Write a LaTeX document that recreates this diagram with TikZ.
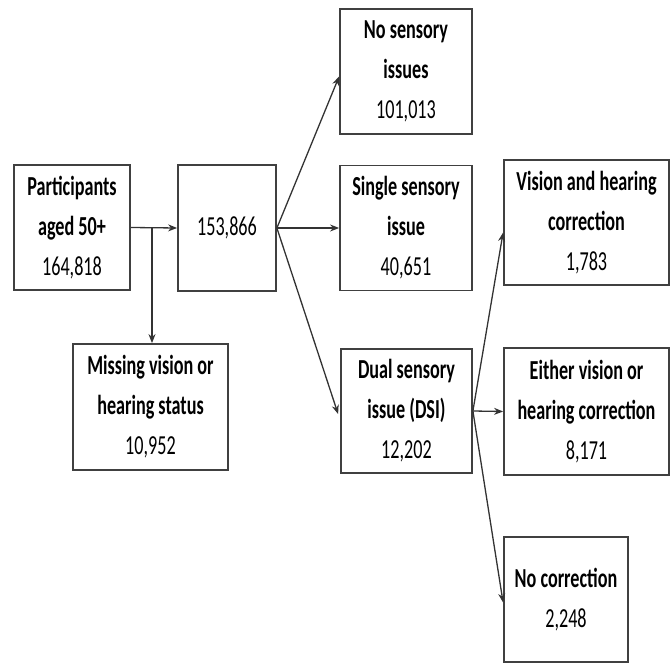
\documentclass[tikz,border=0pt]{standalone}
\usepackage{fontspec}
\setmainfont{Carlito}[FakeStretch=0.66]
\usetikzlibrary{arrows.meta}
\begin{document}
\begin{tikzpicture}[x=1pt,y=-1pt,
  box/.style={draw=black!75, line width=1.8pt, fill=white, inner sep=0pt,
    align=center, font=\fontsize{27.5}{40}\selectfont},
  arr/.style={draw=black!80, line width=1.3pt, -{Stealth[length=9pt,width=7pt]}},
  ln/.style={draw=black!80, line width=1.3pt}]
\useasboundingbox (0,0) rectangle (672,663);
\node[box, minimum width=116pt, minimum height=125pt] (part) at (72,227.5)
  {\textbf{Participants}\\\textbf{aged 50+}\\164,818};
\node[box, minimum width=98pt, minimum height=126pt] (mid) at (227,228) {153,866};
\node[box, minimum width=132pt, minimum height=125pt] (none) at (406,71.5)
  {\textbf{No sensory}\\\textbf{issues}\\101,013};
\node[box, minimum width=132pt, minimum height=125pt] (single) at (406,228)
  {\textbf{Single sensory}\\\textbf{issue}\\40,651};
\node[box, minimum width=131pt, minimum height=124pt] (dual) at (406.5,411)
  {\textbf{Dual sensory}\\\textbf{issue (DSI)}\\12,202};
\node[box, minimum width=155pt, minimum height=126pt] (miss) at (150.5,407)
  {\textbf{Missing vision or}\\\textbf{hearing status}\\10,952};
\node[box, minimum width=165pt, minimum height=125pt] (vh) at (586.5,222.5)
  {\textbf{Vision and hearing}\\\textbf{correction}\\1,783};
\node[box, minimum width=165pt, minimum height=127pt] (either) at (586.5,411.5)
  {\textbf{Either vision or}\\\textbf{hearing correction}\\8,171};
\node[box, minimum width=124pt, minimum height=125pt] (nocorr) at (566,599.5)
  {\textbf{No correction}\\2,248};
\coordinate (branch) at (152,228);
\draw[arr] (part.east) -- (mid.west);
\draw[arr] (branch) -- (branch |- miss.north);
\draw[arr] (mid.east) -- ([yshift=-5pt]none.west);
\draw[arr] (mid.east) -- (single.west);
\draw[arr] (mid.east) -- ([xshift=-2pt,yshift=-3pt]dual.west);
\draw[arr] (dual.east) -- ([yshift=-10pt]vh.west);
\draw[arr] (dual.east) -- (either.west);
\draw[arr] (dual.east) -- ([yshift=-3pt]nocorr.west);
\end{tikzpicture}
\end{document}
